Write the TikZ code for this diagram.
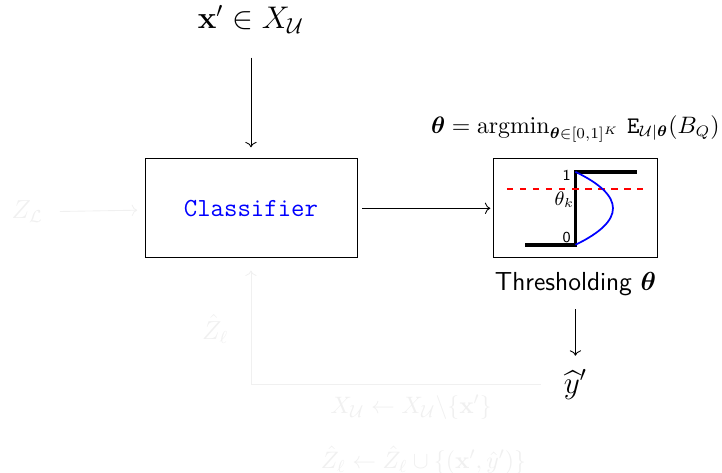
\documentclass[tikz,border=0pt]{standalone}
\usepackage{amsmath, amssymb, bm}
\usepackage{xcolor}
\usepackage{tikz}
\usetikzlibrary{arrows.meta, positioning, calc}

\begin{document}
\begin{tikzpicture}[node distance=1.1cm,
    faded/.style={black!6},
    box/.style={draw,minimum height=1.6cm,inner sep=0pt}]
  \useasboundingbox (0,0) rectangle (11.68,-7.65);
  % main chain
  \node[box,minimum width=3.43cm] (cls) at (4.06,-3.37)
    {\large\texttt{\textcolor{blue}{Classifier}}};
  \node[above=1.9cm of cls] (xin) {\Large $\mathbf{x}'\in X_{\mathcal{U}}$};
  \node[box,minimum width=2.64cm,right=2.2cm of cls] (thr) {};
  \node[above=0.13cm of thr,font=\fontsize{10.7pt}{13pt}\selectfont] (obj)
    {$\bm{\theta}=\operatorname{argmin}_{\bm{\theta}\in[0,1]^K}\,
      \mathtt{E}_{\mathcal{U}|\bm{\theta}}(B_Q)$};
  \node[below=0.1cm of thr] (thrlbl) {\large\sffamily Thresholding $\bm{\theta}$};
  \node[below=0.95cm of thrlbl] (yhat) {\Large $\widehat{y}'$};
  % thresholding sketch
  \begin{scope}[shift={(thr.center)}]
    \draw[line width=1.6pt] (-0.81,-0.59) -- (0,-0.59) -- (0,0.59) -- (1.0,0.59);
    \draw[red,dashed,thick] (-1.11,0.31) -- (1.10,0.31);
    \draw[blue,thick] (0,0.59) .. controls (0.81,0.2) and (0.81,-0.2) .. (0,-0.59);
    \node[font=\scriptsize\sffamily,left,inner sep=2pt] at (0,0.54) {1};
    \node[font=\scriptsize\sffamily,left,inner sep=2pt] at (0,-0.47) {0};
    \node[font=\small,left,inner sep=1pt] at (0.02,0.14) {$\theta_k$};
  \end{scope}
  \draw[->,shorten >=0.18cm,shorten <=0.27cm] (xin) -- (cls);
  \draw[->,shorten >=0.05cm,shorten <=0.08cm] (cls) -- (thr);
  \draw[->,shorten >=0.1cm,shorten <=0.1cm] (thrlbl) -- (yhat);
  % faded feedback loop
  \node[faded] (zl) at (0.44,-3.43) {\large $Z_{\mathcal{L}}$};
  \draw[faded,->,shorten <=0.15cm,shorten >=0.12cm] (zl) -- (cls);
  \node[faded] (zhat) at (3.48,-5.32) {\large $\hat{Z}_\ell$};
  \coordinate (corner) at (cls.south |- yhat);
  \draw[faded,->,shorten <=0.25cm,shorten >=0.2cm] (yhat) -- (corner) -- (cls.south);
  \node[faded] (upd1) at (6.65,-6.59) {\fontsize{11pt}{13pt}\selectfont $X_{\mathcal{U}}\leftarrow X_{\mathcal{U}}\backslash\{\mathbf{x}'\}$};
  \node[faded] (upd2) at (6.85,-7.44) {\fontsize{11pt}{13pt}\selectfont $\hat{Z}_\ell\leftarrow\hat{Z}_\ell\cup\{(\mathbf{x}',\hat{y}')\}$};
\end{tikzpicture}
\end{document}
